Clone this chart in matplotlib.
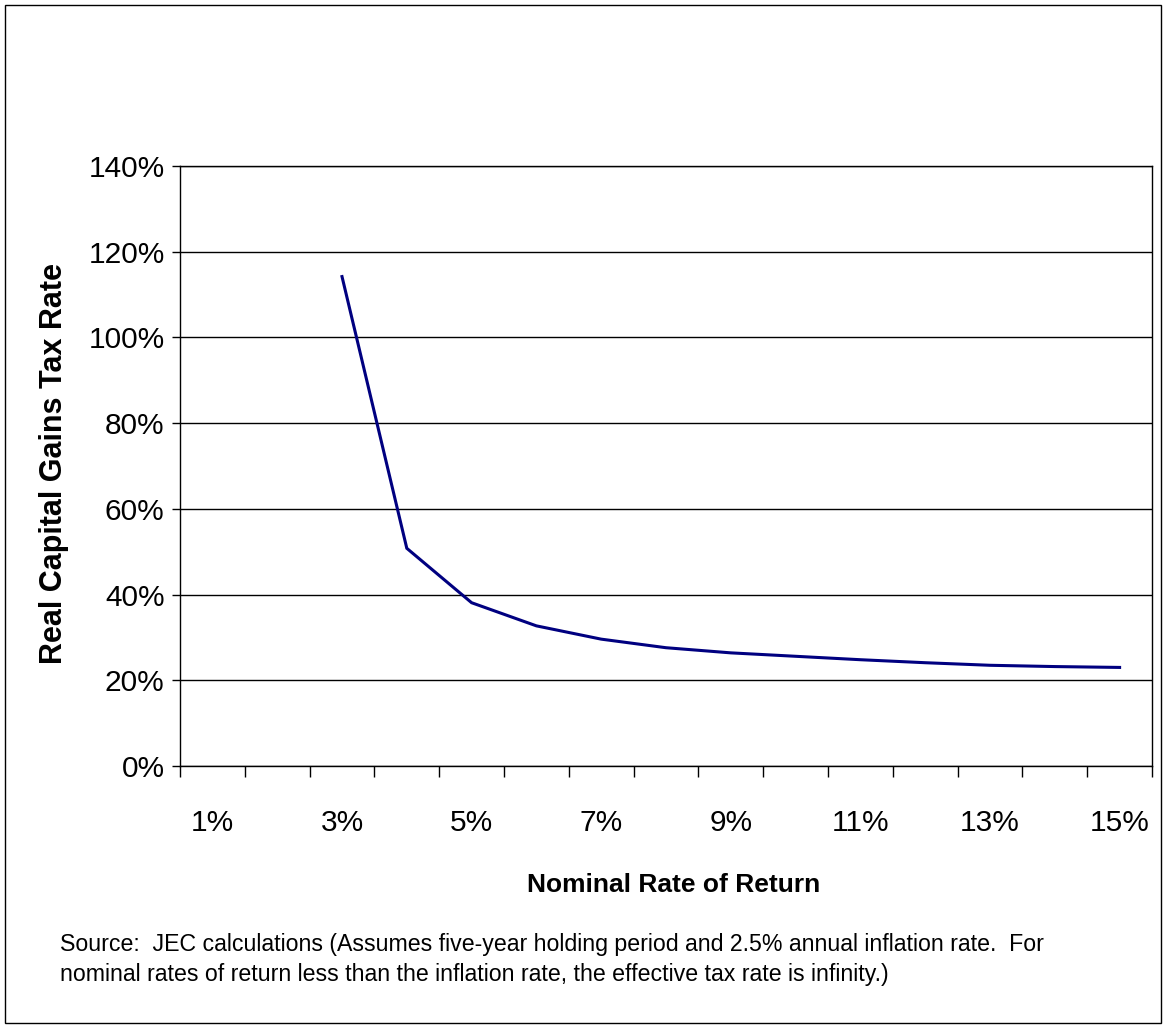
import matplotlib
matplotlib.use("Agg")
import matplotlib.pyplot as plt
import numpy as np
from matplotlib.patches import Rectangle

plt.rcParams["font.family"] = ["Liberation Sans", "DejaVu Sans"]

# nominal rate of return categories (percent)
rates = [1, 2, 3, 4, 5, 6, 7, 8, 9, 10, 11, 12, 13, 14, 15]
# real capital gains tax rate (percent); infinite below inflation rate
tax_rate = [np.nan, np.nan, 114.2, 50.8, 38.1, 32.7, 29.6, 27.6, 26.4,
            25.6, 24.8, 24.1, 23.5, 23.2, 23.0]
y_ticks = [0, 20, 40, 60, 80, 100, 120, 140]
label_rates = [1, 3, 5, 7, 9, 11, 13, 15]

W, H = 1166, 1028
fig = plt.figure(figsize=(W / 100, H / 100), dpi=100)
ax = fig.add_axes([180 / W, 1 - 766 / H, (1152 - 180) / W, (766 - 166) / H])

x = np.arange(len(rates))
ax.plot(x, tax_rate, color="#000080", linewidth=2.2, solid_joinstyle="miter")

ax.set_xlim(-0.5, len(rates) - 0.5)
ax.set_ylim(0, 140)
ax.set_yticks(y_ticks)
ax.set_yticklabels([f"{v}%" for v in y_ticks], fontsize=21.5)
ax.yaxis.grid(True, color="black", linewidth=1)
ax.set_axisbelow(True)

# category boundaries get tick marks, centres get the labels
ax.set_xticks(np.arange(len(rates) + 1) - 0.5)
ax.set_xticklabels([])
ax.set_xticks([rates.index(r) for r in label_rates], minor=True)
ax.set_xticklabels([f"{r}%" for r in label_rates], minor=True, fontsize=21.5)
ax.tick_params(axis="x", which="major", direction="out", length=8, width=1)
ax.tick_params(axis="x", which="minor", length=0, pad=31)
ax.tick_params(axis="y", direction="out", length=6, width=1, pad=5)

for s in ax.spines.values():
    s.set_linewidth(1)
    s.set_color("black")

fig.text(54 / W, 1 - 463 / H, "Real Capital Gains Tax Rate", rotation=90,
         ha="center", va="center", fontsize=22, fontweight="bold")
fig.text(674 / W, 1 - 885 / H, "Nominal Rate of Return",
         ha="center", va="center", fontsize=19, fontweight="bold")
fig.text(60 / W, 1 - 944 / H,
         "Source:  JEC calculations (Assumes five-year holding period and 2.5% annual inflation rate.  For",
         ha="left", va="center", fontsize=16.7)
fig.text(60 / W, 1 - 974 / H,
         "nominal rates of return less than the inflation rate, the effective tax rate is infinity.)",
         ha="left", va="center", fontsize=16.7)

fig.patches.append(Rectangle((5 / W, 5 / H), (W - 10) / W, (H - 10) / H,
                             transform=fig.transFigure, fill=False,
                             edgecolor="black", linewidth=1))

fig.savefig("out.png", dpi=100)
